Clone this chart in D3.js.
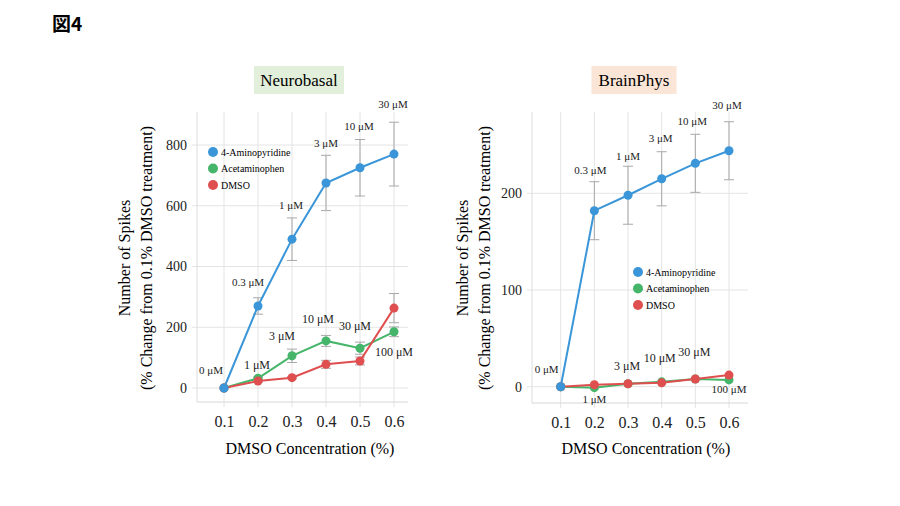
<!DOCTYPE html>
<html><head><meta charset="utf-8">
<script src="https://cdn.jsdelivr.net/npm/d3@7"></script>
<style>body{margin:0;background:#fff}svg{display:block}</style>
</head><body>
<svg id="c" width="900" height="506"></svg>
<script>
const categories = [0.1, 0.2, 0.3, 0.4, 0.5, 0.6];
const seriesNames = ["4-Aminopyridine", "Acetaminophen", "DMSO"];
// Neurobasal
const nbAP = [0, 270, 490, 675, 725, 770];
const nbAPerr = [0, 27, 70, 91, 93, 105];
const nbAce = [0, 32, 106, 155, 131, 185];
const nbAceErr = [0, 4, 22, 18, 20, 16];
const nbDMSO = [0, 23, 34, 78, 89, 263];
const nbDMSOErr = [0, 4, 3, 13, 13, 48];
const nbYTicks = [0, 200, 400, 600, 800];
// BrainPhys
const bpAP = [0, 182, 198, 215, 231, 244];
const bpAPerr = [0, 30, 30, 28, 30, 30];
const bpAce = [0, -1, 3, 5, 8, 7];
const bpAceErr = [0, 0, 0, 0, 0, 0];
const bpDMSO = [0, 2, 3, 4, 8, 12];
const bpDMSOErr = [0, 0, 0, 0, 0, 0];
const bpYTicks = [0, 100, 200];
const apDoses = ["0 μM", "0.3 μM", "1 μM", "3 μM", "10 μM", "30 μM"];
const aceDoses = ["", "1 μM", "3 μM", "10 μM", "30 μM", "100 μM"];
const colors = ["#3a96d8", "#45b56a", "#df4f4f"];

const svg = d3.select("#c");
const serif = "'Liberation Serif','DejaVu Serif',serif";

svg.append("text").attr("x", 52).attr("y", 31)
  .style("font-family", "'Noto Sans CJK JP',sans-serif").style("font-weight", "bold")
  .style("font-size", "19px").text("図4");

function panel(o) {
  const g = svg.append("g");
  const x = d3.scaleLinear().domain([0.1, 0.6]).range(o.xr);
  const y = d3.scaleLinear().domain(o.yd).range(o.yr);
  const left = o.frame[0], right = o.frame[1], top = o.frame[2], bottom = o.frame[3];
  // title box
  g.append("rect").attr("x", o.title.x - o.title.w / 2).attr("y", 66).attr("width", o.title.w)
    .attr("height", 28).attr("fill", o.title.fill);
  g.append("text").attr("x", o.title.x).attr("y", 86).attr("text-anchor", "middle")
    .style("font-family", serif).style("font-size", "17px").text(o.title.text);
  // grid
  g.selectAll(".vg").data(categories).enter().append("line")
    .attr("x1", d => x(d)).attr("x2", d => x(d)).attr("y1", top).attr("y2", bottom + 5)
    .attr("stroke", "#e4e4e4").attr("stroke-width", 1);
  g.selectAll(".hg").data(o.ticks).enter().append("line")
    .attr("x1", left - 5).attr("x2", right).attr("y1", d => y(d)).attr("y2", d => y(d))
    .attr("stroke", "#e4e4e4");
  g.append("line").attr("x1", left).attr("x2", left).attr("y1", top).attr("y2", bottom).attr("stroke", "#dcdcdc");
  g.append("line").attr("x1", left).attr("x2", right).attr("y1", bottom).attr("y2", bottom).attr("stroke", "#d6d6d6");
  // y axis labels
  const ya = d3.axisLeft(y).tickValues(o.ticks).tickSize(0).tickPadding(0);
  const yg = g.append("g").attr("transform", `translate(${left - 10},0)`).call(ya);
  yg.select(".domain").remove();
  yg.selectAll("text").style("font-family", serif).style("font-size", "14px").attr("fill", "#222");
  // x axis labels
  const xa = d3.axisBottom(x).tickValues(categories).tickSize(0).tickPadding(0).tickFormat(d3.format(".1f"));
  const xg = g.append("g").attr("transform", `translate(0,${bottom + 14})`).call(xa);
  xg.select(".domain").remove();
  xg.selectAll("text").style("font-family", serif).style("font-size", "16px").attr("fill", "#222");
  // axis titles
  const cx = (o.xr[0] + o.xr[1]) / 2;
  g.append("text").attr("x", cx + 1).attr("y", 454).attr("text-anchor", "middle")
    .style("font-family", serif).style("font-size", "16px").text("DMSO Concentration (%)");
  const cy = 258;
  g.append("text").attr("transform", `translate(${o.ytx},${cy}) rotate(-90)`).attr("text-anchor", "middle")
    .style("font-family", serif).style("font-size", "16px").text("Number of Spikes");
  g.append("text").attr("transform", `translate(${o.ytx + 22},${cy}) rotate(-90)`).attr("text-anchor", "middle")
    .style("font-family", serif).style("font-size", "16px").text("(% Change from 0.1% DMSO treatment)");
  // series
  const series = [[o.ap, o.apE], [o.ace, o.aceE], [o.dm, o.dmE]];
  const line = d3.line().x((d, i) => x(categories[i])).y(d => y(d));
  series.forEach((s, k) => {
    const [vals, errs] = s;
    const eg = g.append("g");
    vals.forEach((v, i) => {
      if (!errs[i]) return;
      const xx = x(categories[i]);
      eg.append("line").attr("x1", xx).attr("x2", xx).attr("y1", y(v + errs[i])).attr("y2", y(v - errs[i])).attr("stroke", "#a8a8a8");
      [v + errs[i], v - errs[i]].forEach(e => eg.append("line").attr("x1", xx - 5).attr("x2", xx + 5)
        .attr("y1", y(e)).attr("y2", y(e)).attr("stroke", "#a8a8a8"));
    });
  });
  [1, 2, 0].forEach(k => {
    const vals = series[k][0];
    g.append("path").datum(vals).attr("d", line).attr("fill", "none").attr("stroke", colors[k]).attr("stroke-width", 2);
  });
  [1, 2, 0].forEach(k => {
    const vals = series[k][0];
    g.selectAll(null).data(vals).enter().append("circle")
      .attr("cx", (d, i) => x(categories[i])).attr("cy", d => y(d)).attr("r", 4.5).attr("fill", colors[k]);
  });
  // dose labels
  const lab = (t, lx, ly, sz) => g.append("text").attr("x", lx).attr("y", ly).attr("text-anchor", "middle")
    .style("font-family", serif).style("font-size", (sz || 12) + "px").attr("fill", "#222").text(t);
  apDoses.forEach((t, i) => {
    const off = o.apOff[i];
    lab(t, x(categories[i]) + off[0], y(o.ap[i]) + off[1], off[2]);
  });
  aceDoses.forEach((t, i) => {
    if (!t) return;
    const off = o.aceOff[i];
    lab(t, x(categories[i]) + off[0], y(o.ace[i]) + off[1], off[2]);
  });
  // legend
  seriesNames.forEach((n, i) => {
    g.append("circle").attr("cx", o.leg[0]).attr("cy", o.leg[1] + i * 16.5).attr("r", 5).attr("fill", colors[i]);
    g.append("text").attr("x", o.leg[0] + 8).attr("y", o.leg[1] + i * 16.5 + 3.5)
      .style("font-family", serif).style("font-size", "10px").text(n);
  });
}

panel({
  xr: [224, 394], yd: [0, 800], yr: [388, 145], frame: [197, 408, 112, 402], ticks: nbYTicks,
  title: { x: 299, w: 90, fill: "#e2efda", text: "Neurobasal" }, ytx: 130,
  ap: nbAP, apE: nbAPerr, ace: nbAce, aceE: nbAceErr, dm: nbDMSO, dmE: nbDMSOErr,
  apOff: [[-13, -14, 11], [-10, -20, 11], [-1, -30, 11], [0, -36, 11], [-1, -38, 11], [-1, -46, 11]],
  aceOff: [null, [-1, -9], [-10, -16], [-8, -18], [-5, -18], [0, 24]],
  leg: [213, 152]
});
panel({
  xr: [560.7, 729], yd: [0, 200], yr: [386.7, 193.3], frame: [532, 748, 112, 403], ticks: bpYTicks,
  title: { x: 634, w: 85, fill: "#fbe5d6", text: "BrainPhys" }, ytx: 468,
  ap: bpAP, apE: bpAPerr, ace: bpAce, aceE: bpAceErr, dm: bpDMSO, dmE: bpDMSOErr,
  apOff: [[-14, -14, 11], [-4, -37, 11], [0, -35, 11], [-1, -37, 11], [-3, -38, 11], [-2, -42, 11]],
  aceOff: [null, [0, 15, 11], [-1, -14, 12], [-2, -20, 12], [-1, -23, 12], [0, 13, 11]],
  leg: [638, 272]
});
</script>
</body></html>
